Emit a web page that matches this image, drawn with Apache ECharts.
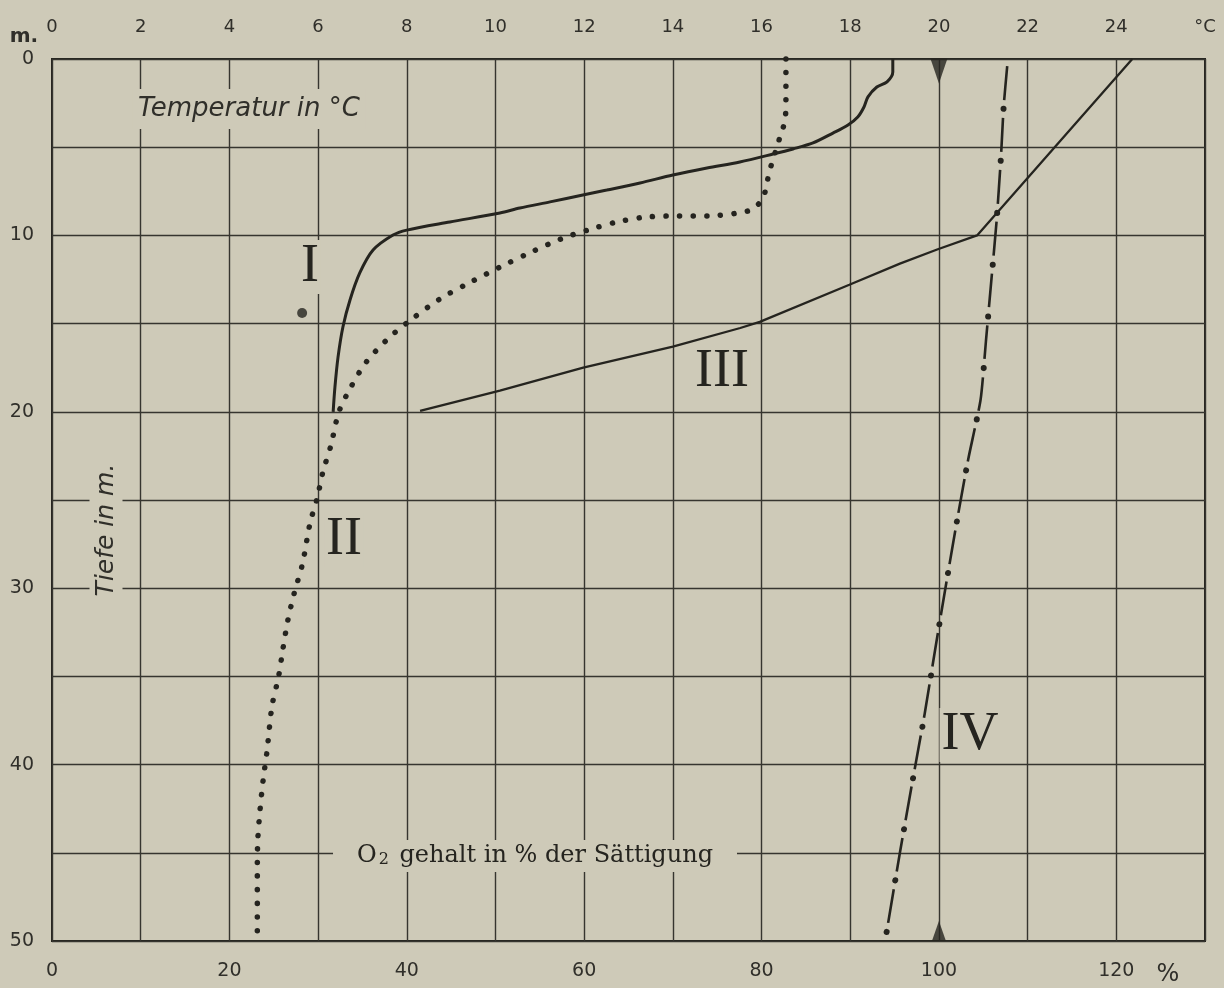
<!DOCTYPE html>
<html>
<head>
<meta charset="utf-8">
<title>Temperatur und Sauerstoff</title>
<script src="https://cdn.jsdelivr.net/npm/echarts@6/dist/echarts.min.js"></script>
<style>
  html, body { margin: 0; padding: 0; background: #cecab8; }
  #chart { width: 1224px; height: 988px; }
</style>
</head>
<body>
<div id="chart"></div>
<script>
// curve I: temperature (°C) vs depth (m)
const tempI = [
  [18.96, 0], [18.96, 0.74], [18.83, 1.3], [18.6, 1.59], [18.4, 2.15], [18.31, 2.72],
  [18.17, 3.29], [17.95, 3.74], [17.61, 4.2], [17.16, 4.76], [16.71, 5.1], [16.26, 5.39],
  [15.51, 5.84], [14.77, 6.18], [14.0, 6.58], [13.26, 7.03], [12.51, 7.43], [11.97, 7.71],
  [11.23, 8.1], [10.55, 8.45], [10.1, 8.73], [8.97, 9.24], [8.0, 9.7], [7.69, 9.98],
  [7.24, 10.83], [6.94, 12.13], [6.72, 13.66], [6.56, 15.19], [6.45, 16.9], [6.38, 18.6],
  [6.34, 20.0]
]
// curve II: temperature (°C) vs depth (m), dotted
const tempII = [
  [16.55, 0], [16.55, 2.3], [16.53, 3.46], [16.44, 4.25], [16.35, 4.93], [16.26, 5.73],
  [16.17, 6.4], [16.12, 7.09], [16.03, 7.88], [15.81, 8.5], [15.47, 8.73], [14.81, 8.9],
  [14.11, 8.9], [13.39, 8.96], [12.74, 9.24], [12.09, 9.69], [11.48, 10.2], [10.76, 11.0],
  [10.1, 11.8], [9.4, 12.7], [8.75, 13.6], [8.14, 14.7], [7.6, 15.8], [7.08, 17.2],
  [6.74, 18.6], [6.47, 20.0], [6.29, 21.9], [6.11, 23.4], [5.98, 24.9], [5.82, 26.3],
  [5.65, 28.6], [5.46, 30.3], [5.32, 31.8], [5.21, 33.4], [5.11, 35.0], [4.96, 36.7],
  [4.85, 39.2], [4.76, 40.9], [4.69, 42.6], [4.64, 44.3], [4.63, 46.0], [4.63, 50.0]
]
// curve III: O2 in % of saturation vs depth (m)
const o2III = [
  [121.8, 0], [104.3, 10], [99.8, 10.8], [95.6, 11.6], [89.9, 12.8], [79.8, 14.9],
  [77.6, 15.25], [70.0, 16.3], [59.9, 17.5], [50.5, 18.8], [41.5, 19.95]
]
// curve IV: O2 in % of saturation vs depth (m), dash-dot
const o2IV = [
  [107.7, 0.4], [107.3, 2.7], [107.0, 5.5], [106.5, 9.2], [105.9, 12.6], [105.3, 16.0],
  [104.7, 19.3], [103.3, 22.7], [102.1, 26.0], [100.9, 29.5], [99.6, 33.4], [98.4, 37.1],
  [97.0, 41.0], [95.6, 45.0], [94.1, 49.5]
]
// single measured point next to label I
const singlePoint = [[5.64, 14.4]]

const depthTicks = [0, 10, 20, 30, 40, 50]
const pctTicks = [0, 20, 40, 60, 80, 100, 120]
const tempTicks = [0, 2, 4, 6, 8, 10, 12, 14, 16, 18, 20, 22, 24]
const saturation = 100

const BG = '#cecab8'
const INK = '#25241f'
const GRIDINK = '#36352f'
const LABEL = '#302f2a'

const chart = echarts.init(document.getElementById('chart'))

const tickFont = {
  color: LABEL,
  fontFamily: 'DejaVu Sans',
  fontSize: 19
}

const textEl = (text, x, y, style, extra) => Object.assign({
  type: 'text',
  x: x,
  y: y,
  z: 1,
  style: Object.assign({
    text: text,
    fill: INK,
    align: 'center',
    verticalAlign: 'middle',
    backgroundColor: BG
  }, style)
}, extra || {})

const option = {
  backgroundColor: BG,
  animation: false,
  grid: {
    left: 52,
    right: 19,
    top: 59,
    bottom: 47,
    show: true,
    borderColor: INK,
    borderWidth: 2,
    backgroundColor: 'transparent'
  },
  xAxis: [
    {
      type: 'value',
      position: 'bottom',
      min: 0,
      max: 130,
      interval: 10,
      axisLine: { show: false },
      axisTick: { show: false },
      splitLine: { show: true, lineStyle: { color: GRIDINK, width: 1.4 } },
      axisLabel: Object.assign({}, tickFont, {
        margin: 21,
        showMinLabel: true,
        showMaxLabel: true,
        formatter: (v) => (pctTicks.includes(v) ? String(v) : '')
      })
    },
    {
      type: 'value',
      position: 'top',
      min: 0,
      max: 26,
      interval: 2,
      axisLine: { show: false },
      axisTick: { show: false },
      splitLine: { show: false },
      axisLabel: Object.assign({}, tickFont, {
        fontSize: 18,
        margin: 23,
        showMinLabel: true,
        showMaxLabel: true,
        formatter: (v) => (v === 26 ? '°C' : (tempTicks.includes(v) ? String(v) : ''))
      })
    }
  ],
  yAxis: {
    type: 'value',
    inverse: true,
    min: 0,
    max: 50,
    interval: 5,
    axisLine: { show: false },
    axisTick: { show: false },
    splitLine: { show: true, lineStyle: { color: GRIDINK, width: 1.4 } },
    axisLabel: Object.assign({}, tickFont, {
      margin: 18,
      showMinLabel: true,
      showMaxLabel: true,
      formatter: (v) => (depthTicks.includes(v) ? String(v) : '')
    })
  },
  series: [
    {
      name: 'I',
      type: 'line',
      xAxisIndex: 1,
      data: tempI,
      smooth: 0.3,
      symbol: 'none',
      clip: false,
      lineStyle: { color: INK, width: 3 }
    },
    {
      name: 'II',
      type: 'line',
      xAxisIndex: 1,
      data: tempII,
      smooth: 0.3,
      symbol: 'none',
      clip: false,
      lineStyle: { color: INK, width: 5.5, type: [0.1, 13.5], cap: 'round' }
    },
    {
      name: 'III',
      type: 'line',
      xAxisIndex: 0,
      data: o2III,
      symbol: 'none',
      clip: false,
      lineStyle: { color: INK, width: 2.3 }
    },
    {
      name: 'IV',
      type: 'line',
      xAxisIndex: 0,
      data: o2IV,
      smooth: 0.2,
      symbol: 'none',
      clip: false,
      lineStyle: { color: INK, width: 2.6, type: [34, 18] }
    },
    {
      name: 'IV Punkte',
      type: 'line',
      xAxisIndex: 0,
      data: o2IV,
      smooth: 0.2,
      symbol: 'none',
      clip: false,
      lineStyle: { color: INK, width: 6, type: [0.1, 51.9], dashOffset: 9, cap: 'round' }
    },
    {
      name: 'Punkt',
      type: 'scatter',
      xAxisIndex: 1,
      data: singlePoint,
      symbol: 'circle',
      symbolSize: 10,
      itemStyle: { color: INK }
    },
    {
      name: 'Sättigung oben',
      type: 'scatter',
      xAxisIndex: 0,
      data: [[saturation, depthTicks[0]]],
      symbol: 'triangle',
      symbolSize: [17, 25],
      symbolRotate: 180,
      symbolOffset: [0, 12],
      clip: false,
      itemStyle: { color: INK }
    },
    {
      name: 'Sättigung unten',
      type: 'scatter',
      xAxisIndex: 0,
      data: [[saturation, depthTicks[depthTicks.length - 1]]],
      symbol: 'triangle',
      symbolSize: [14, 20],
      symbolOffset: [0, -10],
      clip: false,
      itemStyle: { color: INK }
    }
  ],
  graphic: [
    textEl('I', 310, 267, { font: '54px "Liberation Serif"', padding: [0, 2] }),
    textEl('II', 344, 540, { font: '54px "Liberation Serif"', padding: [0, 2] }),
    textEl('III', 722, 372, { font: '54px "Liberation Serif"', padding: [0, 2] }),
    textEl('IV', 970, 735, { font: '54px "Liberation Serif"', padding: [0, 2] }),
    textEl('Temperatur in °C', 249, 109, {
      font: 'italic 26px "DejaVu Sans"',
      fill: LABEL,
      padding: [10, 6, 4, 6]
    }),
    textEl('Tiefe in m.', 106, 530, {
      font: 'italic 25px "DejaVu Sans"',
      fill: LABEL,
      padding: [4, 6, 4, 6]
    }, { rotation: Math.PI / 2 }),
    textEl('{o|O}{s|2}{o| gehalt in % der Sättigung}', 535, 856, {
      fill: INK,
      padding: [4, 24],
      rich: {
        o: { font: '24px "DejaVu Serif"', fill: INK },
        s: { font: '16px "DejaVu Serif"', fill: INK, padding: [8, 3, 0, 2] }
      }
    }),
    textEl('m.', 24, 37, { font: 'bold 20px "DejaVu Sans"', fill: LABEL, backgroundColor: 'transparent' }),
    textEl('%', 1168, 975, { font: '24px "DejaVu Sans"', fill: LABEL, backgroundColor: 'transparent' })
  ]
}

chart.setOption(option)

window.addEventListener('resize', () => {
  chart.resize()
})
</script>
</body>
</html>
